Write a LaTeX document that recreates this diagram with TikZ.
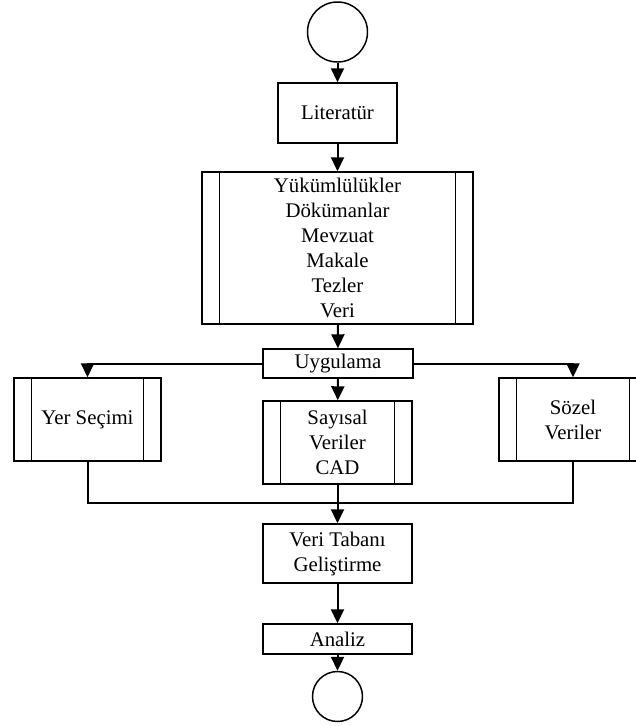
\documentclass[tikz,border=0pt]{standalone}
\usepackage{fontspec}
\setmainfont{Liberation Serif}
\usepackage{tikz}
\usetikzlibrary{arrows.meta}
\tikzset{
	roundnode/.style={circle, draw, line width=1.1pt, inner sep=0pt},
	rectnode/.style={rectangle, draw, line width=1.1pt, inner sep=2pt, align=center},
	procnode/.style={rectnode, path picture={
		\draw[line width=1.1pt] ([xshift=13.2pt]path picture bounding box.north west) -- ([xshift=13.2pt]path picture bounding box.south west);
		\draw[line width=1.1pt] ([xshift=-13.2pt]path picture bounding box.north east) -- ([xshift=-13.2pt]path picture bounding box.south east);}},
	flow/.style={line width=1.5pt, -{Triangle[width=9.75pt,length=10.5pt]}},
	plain/.style={line width=1.5pt}
}
\begin{document}
\begin{tikzpicture}[x=0.75pt, y=-0.75pt, font=\fontsize{15.6}{18.75}\selectfont]
		\useasboundingbox (0,0) rectangle (636,726);
		\clip (0,0) rectangle (636,726);
		
		\node[roundnode, minimum size=45pt] at (337.5,32) (bas)    {};
		\node[rectnode, minimum width=89.25pt, minimum height=45pt] at (337.5,113) (lit)    {Literatür};
		\node[procnode, minimum width=203.25pt, minimum height=114pt] at (337.5,248) (kay)    {Yükümlülükler\\Dökümanlar\\Mevzuat\\Makale\\Tezler\\Veri};
		\node[rectnode, minimum width=112.5pt, minimum height=21.75pt] at (338,363.5) (uyg)    {Uygulama};
		\node[procnode, minimum width=110.25pt, minimum height=62.25pt] at (87.5,419.5) (yer)    {Yer Seçimi};
		\node[procnode, minimum width=111.75pt, minimum height=62.25pt] at (337.5,442.5) (say)    {Sayısal\\Veriler\\CAD};
		\node[procnode, minimum width=111pt, minimum height=62.25pt] at (573,419.5) (soz)    {Sözel\\Veriler};
		\node[rectnode, minimum width=111.75pt, minimum height=44.25pt] at (337.5,553.5) (vtg)    {Veri Tabanı\\Geliştirme};
		\node[rectnode, minimum width=111.75pt, minimum height=22.5pt] at (337.5,639) (ana)    {Analiz};
		\node[roundnode, minimum size=37.5pt] at (337.5,696.5) (son)    {};
		\coordinate (bir) at (337.5,503);
		
		\draw[flow] (bas) -- (lit);
		\draw[flow] (lit) -- (kay);
		\draw[flow] (kay) -- (uyg);
		\draw[flow] (uyg.west) -| (yer.north);
		\draw[flow] (uyg.east) -| (soz.north);
		\draw[flow] (uyg) -- (say);
		\draw[plain] (yer.south) |- (bir);
		\draw[plain] (soz.south) |- (bir);
		\draw[flow] (say) -- (vtg);
		\draw[flow] (vtg) -- (ana);
		\draw[flow] (ana) -- (son);
	\end{tikzpicture}
\end{document}
